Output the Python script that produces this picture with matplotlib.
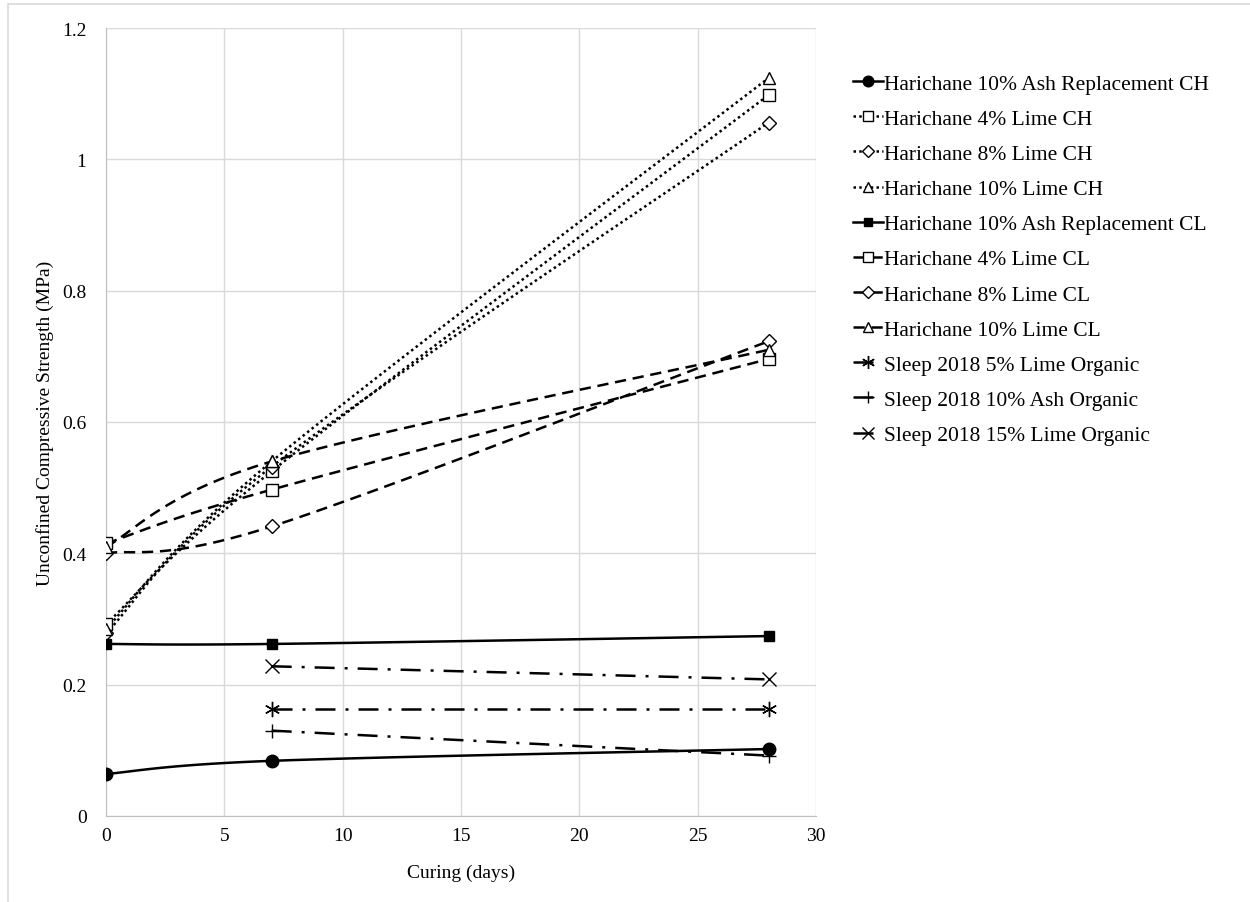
# smoothed strength-vs-curing chart, Excel style
import numpy as np
import matplotlib.pyplot as plt
from matplotlib.lines import Line2D
from matplotlib.patches import Rectangle

plt.rcParams['font.family'] = ['Liberation Serif', 'DejaVu Serif']

days_h = [0, 7, 28]
days_s = [7, 28]

labels = [
    'Harichane 10% Ash Replacement CH',
    'Harichane 4% Lime CH',
    'Harichane 8% Lime CH',
    'Harichane 10% Lime CH',
    'Harichane 10% Ash Replacement CL',
    'Harichane 4% Lime CL',
    'Harichane 8% Lime CL',
    'Harichane 10% Lime CL',
    'Sleep 2018 5% Lime Organic',
    'Sleep 2018 10% Ash Organic',
    'Sleep 2018 15% Lime Organic',
]

ash_ch = [0.064, 0.084, 0.102]
lime4_ch = [0.292, 0.525, 1.098]
lime8_ch = [0.278, 0.532, 1.056]
lime10_ch = [0.285, 0.540, 1.124]
ash_cl = [0.262, 0.262, 0.274]
lime4_cl = [0.415, 0.497, 0.696]
lime8_cl = [0.400, 0.441, 0.723]
lime10_cl = [0.410, 0.540, 0.710]
sleep5 = [0.163, 0.163]
sleep10 = [0.130, 0.092]
sleep15 = [0.228, 0.208]

series = [ash_ch, lime4_ch, lime8_ch, lime10_ch, ash_cl, lime4_cl,
          lime8_cl, lime10_cl, sleep5, sleep10, sleep15]

dashed = (0, (4.5, 2.7))
dotted = (0, (1, 1.3))
dashdot = (0, (8, 4, 1.2, 4))
styles = [
    ('-', 'o', 'black'), (dotted, 's', 'white'), (dotted, 'D', 'white'), (dotted, '^', 'white'),
    ('-', 's', 'black'), (dashed, 's', 'white'), (dashed, 'D', 'white'), (dashed, '^', 'white'),
    (dashdot, (6, 2, 0), 'none'), (dashdot, '+', 'none'), (dashdot, 'x', 'none'),
]
msizes = [9, 9, 7, 9, 7.5, 9, 7, 9, 11, 10, 10]


def smooth(xs, ys, n=40):
    # Catmull-Rom style bezier like Excel's smoothed lines
    p = np.column_stack([xs, ys]).astype(float)
    pts = [p[0]]
    for i in range(len(p) - 1):
        p0 = p[i - 1] if i > 0 else p[i]
        p3 = p[i + 2] if i + 2 < len(p) else p[i + 1]
        c1 = p[i] + (p[i + 1] - p0) / 6
        c2 = p[i + 1] - (p3 - p[i]) / 6
        t = np.linspace(0, 1, n)[1:, None]
        b = ((1 - t) ** 3) * p[i] + 3 * ((1 - t) ** 2) * t * c1 + 3 * (1 - t) * t ** 2 * c2 + t ** 3 * p[i + 1]
        pts.extend(b)
    pts = np.array(pts)
    return pts[:, 0], pts[:, 1]


fig = plt.figure(figsize=(12.5, 9.03), dpi=100)
fig.patches.append(Rectangle((8 / 1250, -0.1), 1.2, (1 + 0.1) - 5 / 903, transform=fig.transFigure,
                             fill=False, edgecolor='#d9d9d9', linewidth=1.2))
ax = fig.add_axes([106 / 1250, 86 / 903, 710 / 1250, 788 / 903])

handles = []
for k, (ys, (ls, mk, fc)) in enumerate(zip(series, styles)):
    xs = days_h if len(ys) == 3 else days_s
    sx, sy = smooth(xs, ys)
    ax.plot(sx, sy, color='black', linestyle=ls, linewidth=1.8, zorder=3)
    ax.plot(xs, ys, linestyle='none', marker=mk, markersize=msizes[k], markerfacecolor=fc,
            markeredgecolor='black', markeredgewidth=1.0, zorder=4)
    handles.append(Line2D([], [], color='black', linestyle=ls, linewidth=1.8, marker=mk,
                          markersize=msizes[k] * 0.85, markerfacecolor=fc, markeredgecolor='black',
                          markeredgewidth=1.0))

ax.set_xlim(0, 30)
ax.set_ylim(0, 1.2)
ax.set_xticks(np.arange(0, 31, 5))
ax.set_yticks(np.arange(0, 1.21, 0.2))
ax.set_yticklabels(['0', '0.2', '0.4', '0.6', '0.8', '1', '1.2'])
ax.grid(True, color='#d9d9d9', linewidth=1.0, zorder=0)
ax.set_axisbelow(True)
for s in ['top', 'right']:
    ax.spines[s].set_visible(False)
for s in ['left', 'bottom']:
    ax.spines[s].set_color('#bfbfbf')
ax.tick_params(length=0, labelsize=14)
ax.tick_params(axis='y', pad=14)
ax.tick_params(axis='x', pad=8)
ax.set_xlabel('Curing (days)', fontsize=14, labelpad=14)
ax.set_ylabel('Unconfined Compressive Strength (MPa)', fontsize=14, labelpad=6)

fig.legend(handles, labels, loc='upper left', bbox_to_anchor=(844 / 1250, 1 - 66 / 903),
           frameon=False, fontsize=15.5, handlelength=1.4, handletextpad=0.05,
           labelspacing=0.7, borderaxespad=0)

fig.savefig('out.png', dpi=100)
